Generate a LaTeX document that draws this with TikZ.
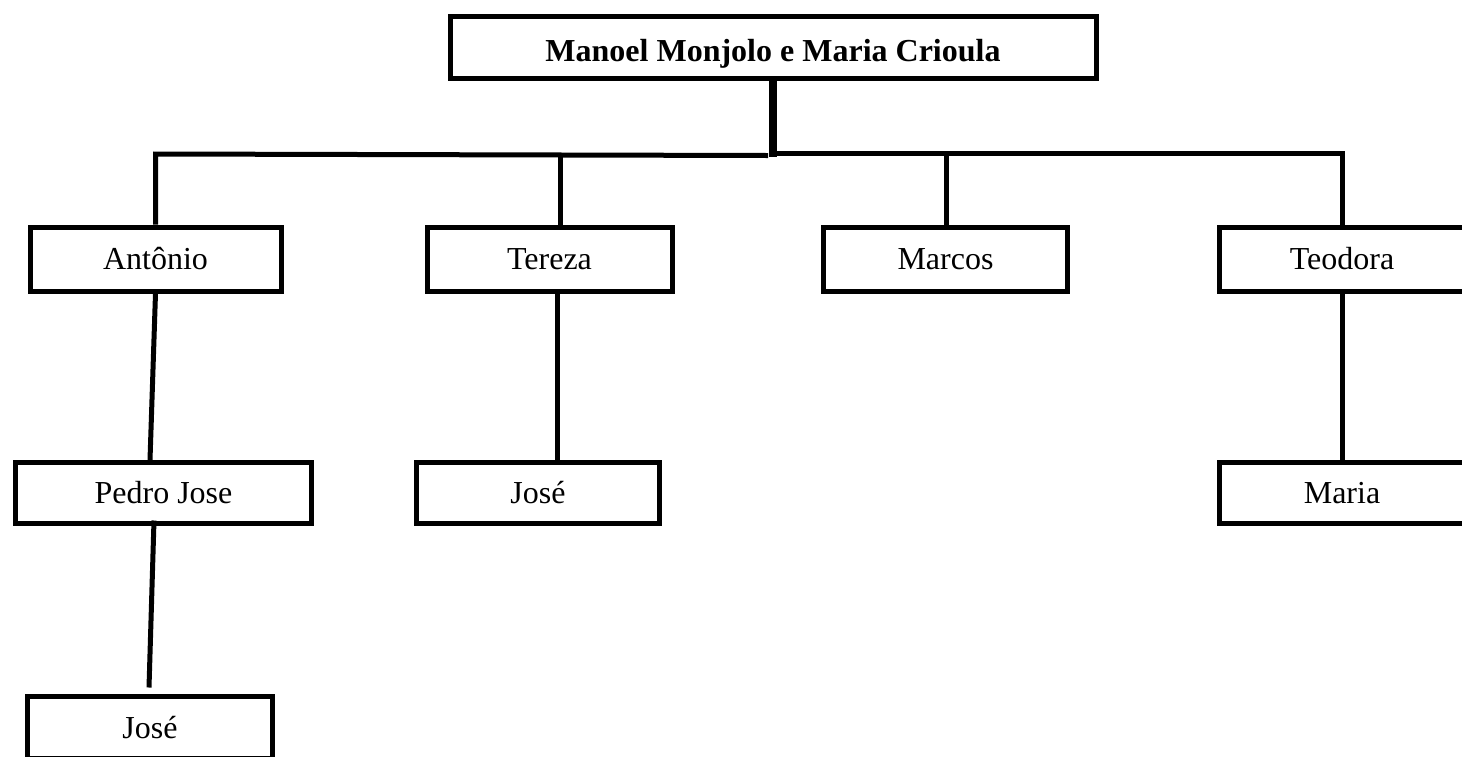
\documentclass[tikz,border=0pt]{standalone}
\usepackage{fontspec}
\setmainfont{Liberation Serif}
\begin{document}
\begin{tikzpicture}[x=1pt,y=-1pt,
  person/.style={draw=black, line width=5pt, fill=white, inner sep=0pt,
    font=\fontsize{32}{38}\selectfont, minimum height=63pt},
  link/.style={line width=5pt, black},
  stemline/.style={line width=8pt, black}]
\useasboundingbox (0,0) rectangle (1462,756);
\clip (0,0) rectangle (1462,756);

% couple at the top (text set a little below the box centre)
\node[person, minimum width=646pt, minimum height=62pt, text height=33pt, text depth=4pt,
  font=\fontsize{32}{38}\selectfont\bfseries]
  (top) at (773,47) {Manoel Monjolo e Maria Crioula};

% children
\node[person, minimum width=251pt, minimum height=64pt] (ant) at (155.5,259) {Antônio};
\node[person, minimum width=245pt, minimum height=64pt] (ter) at (549.5,259) {Tereza};
\node[person, minimum width=244pt, minimum height=64pt] (mcs) at (945.5,259) {Marcos};
\node[person, minimum width=245pt, minimum height=64pt] (teo) at (1342,259) {Teodora};

% grandchildren
\node[person, minimum width=296pt, minimum height=61pt] (ped) at (163.5,493) {Pedro Jose};
\node[person, minimum width=243pt, minimum height=61pt] (jos1) at (538,493) {José};
\node[person, minimum width=245pt, minimum height=61pt] (mar) at (1342,493) {Maria};

% great-grandchild
\node[person, minimum width=245pt, minimum height=62pt] (jos2) at (150,727.5) {José};

% junction points on the sibling bar
\coordinate (stemfoot) at (773,157);
\coordinate (barL) at (155.5,154);
\coordinate (barM) at (768,155.5);
\coordinate (barR) at (1342,153);
\coordinate (terTop) at (560,154);
\coordinate (mcsTop) at (946,153);

% stem and sibling bar
\draw[stemline] (top.south) -- (stemfoot);
\draw[link] (ant.north) -- (barL) -- (barM);
\draw[link] (stemfoot |- barR) -- (barR) -- (teo.north);
\draw[link] (terTop) -- (terTop |- ter.north);
\draw[link] (mcsTop) -- (mcsTop |- mcs.north);

% descendants
\draw[link] (ant.south) -- ([xshift=-13.5pt]ped.north);
\draw[link] ([xshift=-9.5pt,yshift=5.5pt]ped.south) -- ([xshift=-1pt,yshift=6.5pt]jos2.north);
\draw[link] ([xshift=7.5pt]ter.south) -- ([xshift=7.5pt]ter.south |- jos1.north);
\draw[link] (teo.south) -- (mar.north);
\end{tikzpicture}
\end{document}
